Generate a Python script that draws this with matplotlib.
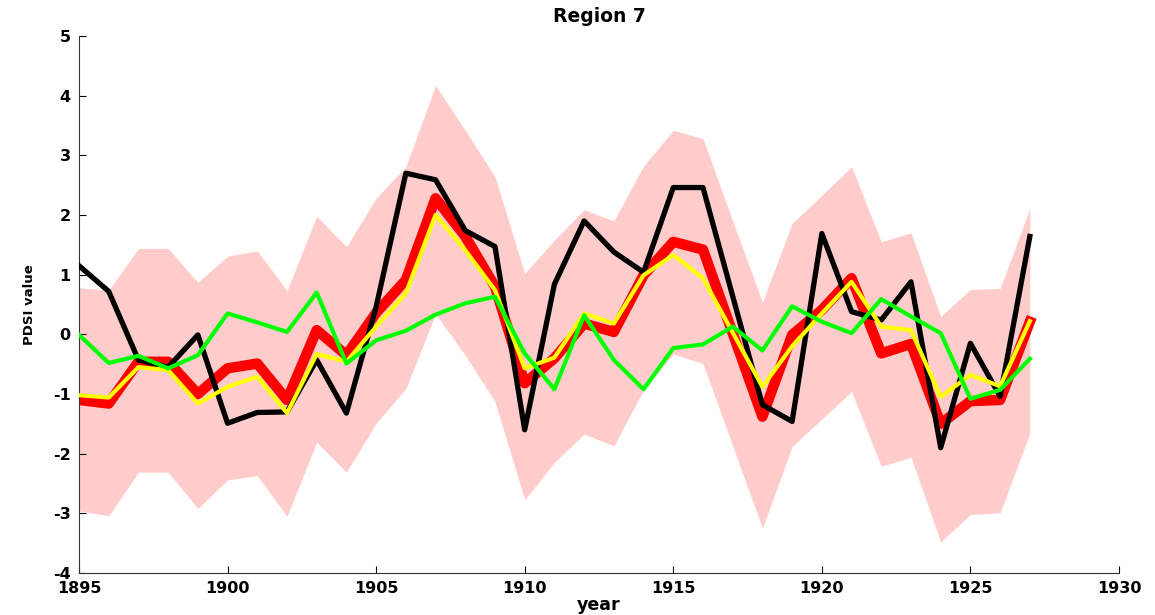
import matplotlib
matplotlib.use("Agg")
import matplotlib.pyplot as plt
import numpy as np

years = list(range(1895, 1928))

band_upper = [0.78, 0.74, 1.44, 1.44, 0.87, 1.31, 1.40, 0.73, 1.98, 1.47,
              2.28, 2.81, 4.17, 3.42, 2.64, 1.02, 1.58, 2.09, 1.90, 2.82,
              3.42, 3.28, 1.90, 0.54, 1.86, 2.33, 2.81, 1.55, 1.70, 0.30,
              0.75, 0.77, 2.11]
band_lower = [-2.96, -3.04, -2.31, -2.31, -2.92, -2.44, -2.37, -3.05, -1.81, -2.31,
              -1.49, -0.91, 0.34, -0.35, -1.13, -2.77, -2.15, -1.67, -1.87, -0.93,
              -0.33, -0.49, -1.87, -3.25, -1.88, -1.42, -0.96, -2.21, -2.06, -3.48,
              -3.02, -2.99, -1.66]

red = [-1.10, -1.16, -0.46, -0.46, -1.00, -0.57, -0.49, -1.10, 0.07, -0.35,
       0.36, 0.91, 2.28, 1.64, 0.80, -0.82, -0.40, 0.18, 0.04, 0.99,
       1.55, 1.42, 0.02, -1.38, -0.01, 0.41, 0.94, -0.32, -0.16, -1.50,
       -1.12, -1.10, 0.21]

black = [1.15, 0.72, -0.43, -0.55, -0.01, -1.49, -1.31, -1.30, -0.43, -1.32,
         0.46, 2.70, 2.59, 1.74, 1.47, -1.60, 0.84, 1.90, 1.38, 1.04,
         2.46, 2.46, 0.64, -1.18, -1.46, 1.69, 0.38, 0.24, 0.88, -1.90,
         -0.15, -1.04, 1.64]

yellow = [-1.02, -1.06, -0.55, -0.60, -1.16, -0.88, -0.71, -1.32, -0.33, -0.46,
          0.13, 0.69, 2.00, 1.41, 0.74, -0.57, -0.39, 0.35, 0.18, 0.99,
          1.33, 0.94, 0.03, -0.88, -0.20, 0.35, 0.88, 0.13, 0.07, -1.05,
          -0.68, -0.87, 0.22]

green = [-0.01, -0.48, -0.36, -0.57, -0.35, 0.35, 0.20, 0.04, 0.70, -0.49,
         -0.10, 0.06, 0.33, 0.52, 0.63, -0.32, -0.92, 0.32, -0.43, -0.92,
         -0.23, -0.17, 0.13, -0.27, 0.47, 0.21, 0.02, 0.59, 0.30, 0.02,
         -1.08, -0.93, -0.41]

xticks = list(range(1895, 1931, 5))
yticks = list(range(-4, 6))

plt.rcParams['font.family'] = ['DejaVu Sans']
plt.rcParams['axes.unicode_minus'] = False
fig = plt.figure(figsize=(11.55, 6.15), dpi=100)
ax = fig.add_axes([0.0684, 0.0683, 0.9004, 0.8732])

ax.fill_between(years, band_lower, band_upper, color='#ffcccc', linewidth=0, zorder=1)
ax.plot(years, red, color='#ff0000', linewidth=7.5, solid_joinstyle='round', zorder=2)
ax.plot(years, black, color='black', linewidth=3.8, zorder=3)
ax.plot(years, yellow, color='#ffff00', linewidth=3.0, zorder=4)
ax.plot(years, green, color='#00ff00', linewidth=3.0, zorder=5)

ax.set_xlim(1895, 1930)
ax.set_ylim(-4, 5)
ax.set_xticks(xticks)
ax.set_yticks(yticks)
ax.tick_params(direction='in', length=5, width=0.8, labelsize=11.5)
ax.tick_params(axis='x', pad=6)
ax.tick_params(axis='y', pad=6)
for lab in ax.get_xticklabels() + ax.get_yticklabels():
    lab.set_fontweight('bold')
ax.spines['top'].set_visible(False)
ax.spines['right'].set_visible(False)
for s in ('left', 'bottom'):
    ax.spines[s].set_color('#333333')
    ax.spines[s].set_linewidth(0.8)

ax.set_title('Region 7', fontsize=13.5, fontweight='bold', pad=10)
ax.set_xlabel('year', fontsize=12.5, fontweight='bold', labelpad=0)
ax.set_ylabel('PDSI value', fontsize=9.5, fontweight='bold', labelpad=12)

fig.savefig('out.png', dpi=100)
